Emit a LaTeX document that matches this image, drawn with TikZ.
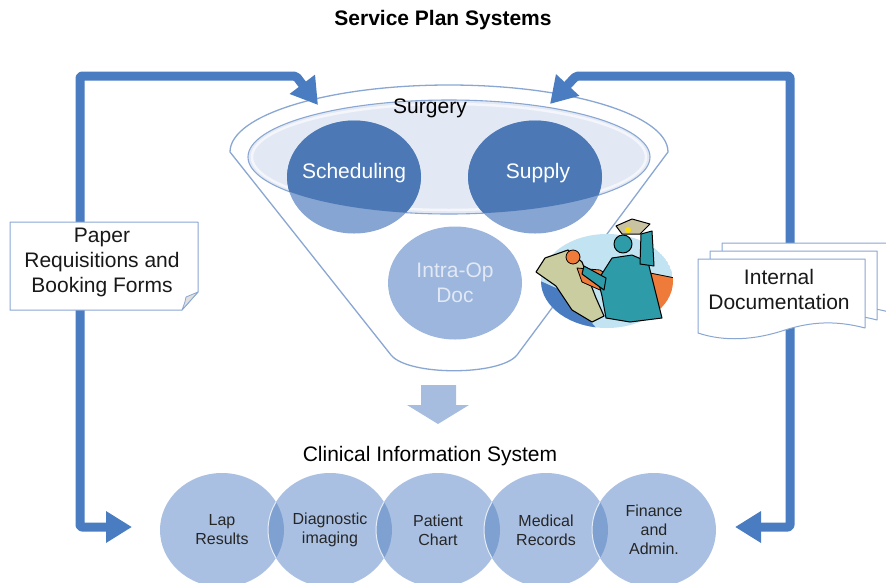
\documentclass[tikz,border=0pt]{standalone}
\usepackage{fontspec}
\setmainfont{Liberation Sans}
\usetikzlibrary{arrows.meta,shapes.geometric}
\definecolor{flowblue}{HTML}{4A7CC1}
\definecolor{rim}{HTML}{8AA7D3}
\definecolor{tray}{HTML}{E3E9F4}
\definecolor{deep}{HTML}{4C79B6}
\definecolor{pale}{HTML}{86A5D2}
\definecolor{intra}{HTML}{9CB6DD}
\definecolor{intratext}{HTML}{E2E9F5}
\definecolor{cis}{HTML}{A9C0E2}
\definecolor{lens}{HTML}{7FA1D1}
\definecolor{chute}{HTML}{A6BDE0}
\definecolor{sky}{HTML}{C2E3F2}
\definecolor{bed}{HTML}{CACD9F}
\definecolor{drape}{HTML}{EF7B3A}
\definecolor{gown}{HTML}{2E9BA9}
\definecolor{lamp}{HTML}{C9C3A2}
\tikzset{
  every picture/.style={line join=round, line cap=round},
  big/.style={font=\fontsize{21}{25}\selectfont},
  unit/.style={ellipse, minimum width=134pt, minimum height=113pt, inner sep=0pt},
  cisnode/.style={ellipse, fill=cis, minimum width=124pt, minimum height=114pt, inner sep=0pt,
    align=center, text=black!85, font=\fontsize{16}{19}\selectfont},
  flow/.style={draw=flowblue, line width=9pt, rounded corners=2pt,
    >={Triangle[length=26pt,width=30pt]}, <->},
  sheet/.style={draw=rim, fill=white, line width=1pt},
}

\begin{document}
\begin{tikzpicture}[x=1pt,y=-1pt]
\path[use as bounding box, clip] (0,0) rectangle (886,582);

\node[font=\bfseries\fontsize{21}{25}\selectfont] (title) at (443,20) {Service Plan Systems};

% funnel with the surgery tray
\draw[rim, line width=1.3pt, fill=white] (230,152) .. controls (230,115) and (328,85) .. (449,85)
  .. controls (570,85) and (668,115) .. (668,152) -- (517,355)
  .. controls (500,376) and (408,376) .. (391,355) -- cycle;
\fill[tray] (449,157) ellipse [x radius=201, y radius=57];
\draw[white!60!tray, line width=2.5pt] (449,157) ellipse [x radius=197, y radius=53];
\draw[rim, line width=1.1pt] (449,157) ellipse [x radius=201, y radius=57];

\node[unit, fill=pale] (sched) at (354,177) {};
\node[unit, fill=pale] (supply) at (535,177) {};
\begin{scope}
  \clip (449,157) ellipse [x radius=201, y radius=57];
  \fill[deep] (sched.center) ellipse [x radius=67, y radius=56.5];
  \fill[deep] (supply.center) ellipse [x radius=67, y radius=56.5];
\end{scope}
\node[big, text=white] (schedtext) at (354,173) {Scheduling};
\node[big, text=white] (supplytext) at (538,173) {Supply};
\node[big] (surg) at (430,108) {Surgery};

\node[unit, fill=intra, text=intratext, align=center, big] (intra) at (455,283) {Intra-Op\\Doc};

% surgeon clip art
\begin{scope}
  \clip (607,281) ellipse [x radius=66, y radius=47];
  \fill[sky] (607,281) ellipse [x radius=66, y radius=47];
  \fill[flowblue] (538,280) -- (565,292) -- (598,330) -- (540,330) -- cycle;
  \filldraw[drape, draw=black, line width=0.8pt] (600,272) -- (635,270) -- (675,278) -- (675,305)
    -- (655,322) -- (640,300) -- cycle;
\end{scope}
\filldraw[bed, draw=black, line width=1.1pt] (536,272) -- (545,258) -- (568,250) -- (582,262)
  -- (596,298) -- (604,316) -- (592,322) -- (572,310) -- (556,286) -- cycle;
\filldraw[drape, draw=black, line width=0.8pt] (577,268) -- (600,270) -- (618,282) -- (600,290) -- (582,282) -- cycle;
\filldraw[drape, draw=black, line width=0.8pt] (573,257) circle (7);
\filldraw[gown, draw=black, line width=1pt] (598,280) -- (612,258) -- (632,255) -- (648,262)
  -- (655,290) -- (662,318) -- (630,322) -- (606,318) -- (602,296) -- cycle;
\filldraw[gown, draw=black, line width=1pt] (640,264) -- (641,234) -- (652,231) -- (654,266) -- cycle;
\filldraw[gown, draw=black, line width=1pt] (606,278) -- (584,266) -- (582,274) -- (604,290) -- cycle;
\filldraw[gown, draw=black, line width=1pt] (623,244) circle (9);
\filldraw[lamp, draw=black, line width=1pt] (616,226) -- (632,219) -- (650,224) -- (640,234) -- (622,234) -- cycle;
\fill[yellow!80!orange] (628,230) circle (3);

% down arrow into the clinical system
\fill[chute] (421,385) -- (456,385) -- (456,405) -- (469,405) -- (438,424) -- (407,405) -- (421,405) -- cycle;
\node[big] (cislabel) at (430,456) {Clinical Information System};

% clinical information system modules
\node[cisnode] (lap) at (222,530) {Lap\\Results};
\node[cisnode] (diag) at (330,530) {Diagnostic\\imaging};
\node[cisnode] (chart) at (438,530) {Patient\\Chart};
\node[cisnode] (recs) at (546,530) {Medical\\Records};
\node[cisnode] (fin) at (654,530) {Finance\\and\\Admin.};
\foreach \a/\b in {lap/diag,diag/chart,chart/recs,recs/fin}{
  \begin{scope}
    \clip (\a.center) ellipse [x radius=62, y radius=57];
    \fill[lens] (\b.center) ellipse [x radius=62, y radius=57];
    \draw[white!70!cis, line width=1pt] (\b.center) ellipse [x radius=62, y radius=57];
  \end{scope}
}

% paper and internal feeds
\coordinate (lout) at (132,527);
\coordinate (lin) at (318,105);
\coordinate (rout) at (735,527);
\coordinate (rin) at (550,104);
\draw[flow] (lout) -| (80,76) -- (296,76) -- (lin);
\draw[flow] (rout) -| (790,76) -- (576,76) -- (rin);

\draw[sheet] (10,222) -- (198,222) -- (198,292) -- (182,310) -- (10,310) -- cycle;
\filldraw[fill=black!12, draw=rim, line width=0.8pt] (198,292) -- (182,310) .. controls (185,302) .. (186,297) -- cycle;
\node[big, align=center, text=black!90] (req) at (102,262) {Paper\\Requisitions and\\Booking Forms};

\foreach \dx/\dy in {24/-16,12/-8,0/0}
  \draw[sheet, shift={(\dx,\dy)}] (698,259) -- (865,259) -- (865,328)
    .. controls (835,320) and (810,322) .. (785,330) .. controls (755,340) and (725,342) .. (698,333) -- cycle;
\node[big, align=center, text=black!90] (docs) at (779,289) {Internal\\Documentation};
\end{tikzpicture}
\end{document}
